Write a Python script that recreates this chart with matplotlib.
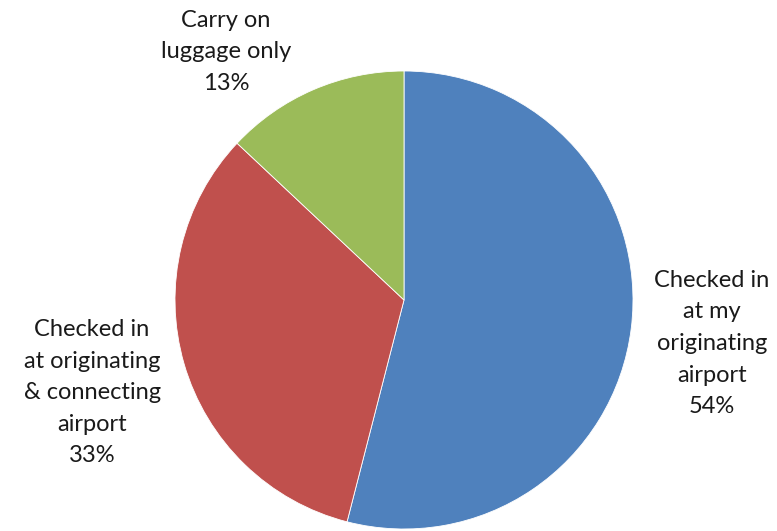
import matplotlib
matplotlib.use("Agg")
import matplotlib.pyplot as plt

# Luggage handling shares
categories = ["Checked in\nat my\noriginating\nairport",
              "Checked in\nat originating\n& connecting\nairport",
              "Carry on\nluggage only"]
shares = [54, 33, 13]
colors = ["#4F81BD", "#C0504D", "#9BBB59"]
# label anchor points in pie units (radius = 1)
label_pos = [(1.345, -0.19), (-1.362, -0.405), (-0.777, 1.083)]

W, H = 777, 531
fig = plt.figure(figsize=(W / 100, H / 100), dpi=100)
cx, cy, r = 404, 300, 229
ax = fig.add_axes([(cx - r) / W, (H - cy - r) / H, 2 * r / W, 2 * r / H])

ax.pie(shares, colors=colors, startangle=90, counterclock=False, radius=1,
       wedgeprops=dict(edgecolor="white", linewidth=0.6))
ax.set_xlim(-1, 1)
ax.set_ylim(-1, 1)
ax.set_aspect("equal")
ax.axis("off")

for name, val, (x, y) in zip(categories, shares, label_pos):
    ax.text(x, y, f"{name}\n{val}%", ha="center", va="center",
            fontsize=17, family="Lato", color="#1a1a1a",
            linespacing=1.62, clip_on=False)

fig.savefig("out.png", dpi=100)
